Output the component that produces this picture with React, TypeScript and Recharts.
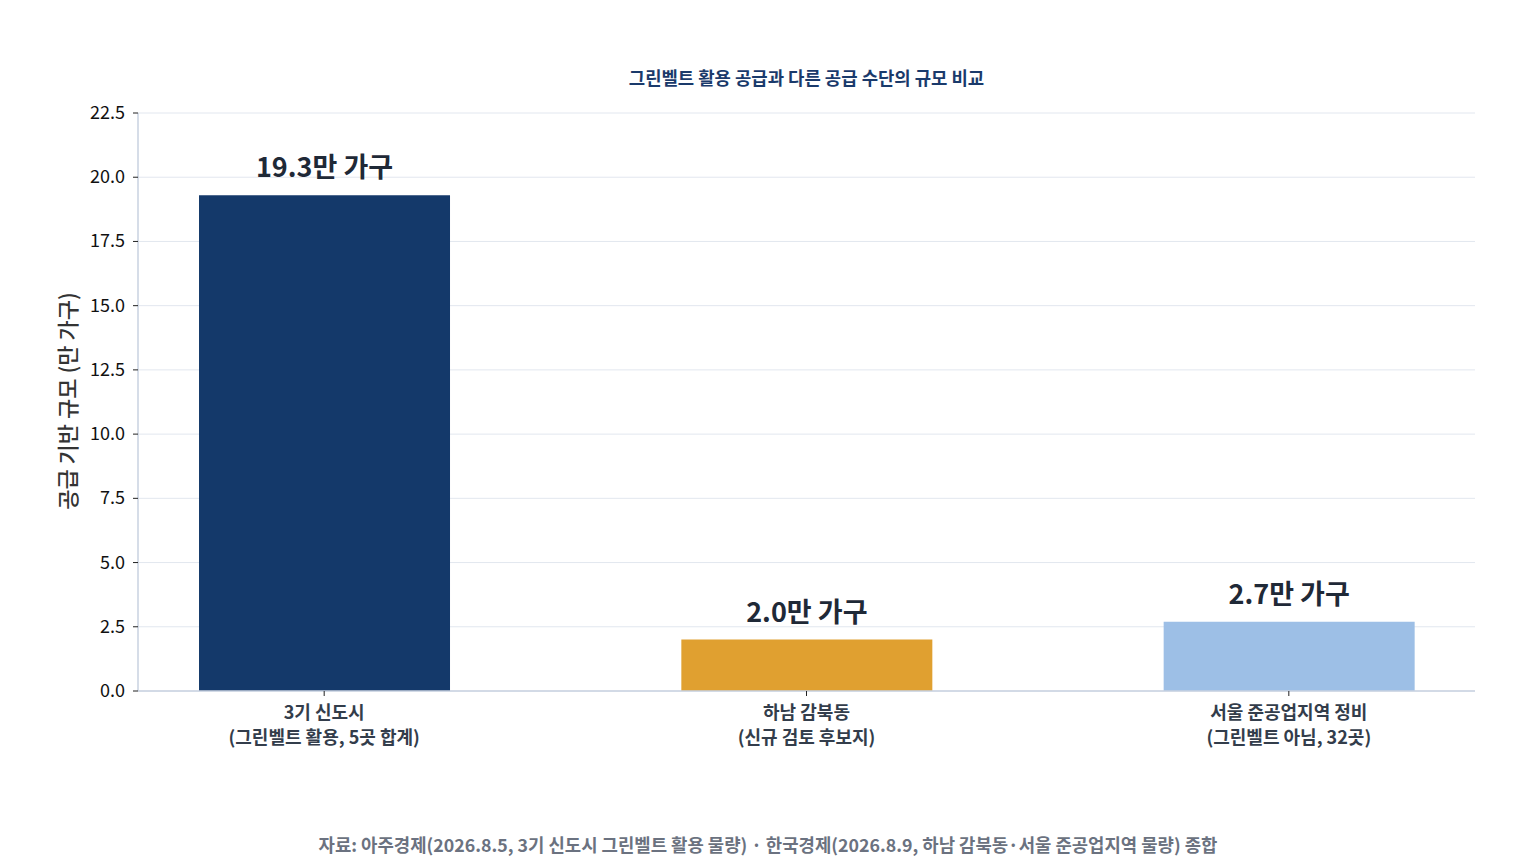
import { BarChart, Bar, XAxis, YAxis, CartesianGrid, Cell, LabelList } from 'recharts';

const categories = [
  ['3기 신도시', '(그린벨트 활용, 5곳 합계)'],
  ['하남 감북동', '(신규 검토 후보지)'],
  ['서울 준공업지역 정비', '(그린벨트 아님, 32곳)'],
];
const values = [19.3, 2.0, 2.7];
const barColors = ['#14396a', '#e0a030', '#9dbfe6'];
const yTicks = [0, 2.5, 5, 7.5, 10, 12.5, 15, 17.5, 20, 22.5];

const FONT = '"Noto Sans CJK KR", "Noto Sans", sans-serif';

const data = values.map((v, i) => ({ x: i, value: v }));

const CategoryTick = ({ x, y, payload }: any) => {
  const lines = categories[payload.value] || [];
  return (
    <g transform={`translate(${x},${y})`}>
      {lines.map((line, i) => (
        <text
          key={i}
          x={0}
          y={21 + i * 25}
          textAnchor="middle"
          fill="#333d4b"
          fontSize={18}
          fontWeight={700}
          fontFamily={FONT}
        >
          {line}
        </text>
      ))}
    </g>
  );
};

const ValueTick = ({ x, y, payload }: any) => (
  <text
    x={x - 6}
    y={y}
    dy={6}
    textAnchor="end"
    fill="#111"
    fontSize={18}
    fontFamily={FONT}
  >
    {Number(payload.value).toFixed(1)}
  </text>
);

const TopLabel = ({ x, y, width, value }: any) => (
  <text
    x={x + width / 2}
    y={y - 18}
    textAnchor="middle"
    fill="#1f2937"
    fontSize={27}
    fontWeight={700}
    fontFamily={FONT}
  >
    {`${Number(value).toFixed(1)}만 가구`}
  </text>
);

export default function App() {
  return (
    <div style={{ position: 'absolute', left: 0, top: 0, width: 1536, height: 864, background: '#fff', fontFamily: FONT }}>
      <div
        style={{
          position: 'absolute',
          left: 138,
          width: 1337,
          top: 64,
          textAlign: 'center',
          fontSize: 17.8,
          fontWeight: 700,
          color: '#1a3a6b',
        }}
      >
        그린벨트 활용 공급과 다른 공급 수단의 규모 비교
      </div>
      <div
        style={{
          position: 'absolute',
          left: 66,
          top: 401,
          transform: 'translate(-50%, -50%) rotate(-90deg)',
          whiteSpace: 'nowrap',
          fontSize: 22,
          fontWeight: 500,
          color: '#333',
        }}
      >
        공급 기반 규모 (만 가구)
      </div>
      <BarChart
        width={1536}
        height={864}
        data={data}
        margin={{ top: 113, right: 61, bottom: 0, left: 0 }}
      >
        <CartesianGrid vertical={false} stroke="#e2e7ef" />
        <XAxis
          dataKey="x"
          type="number"
          domain={[-0.386, 2.386]}
          ticks={[0, 1, 2]}
          interval={0}
          height={173}
          tick={<CategoryTick />}
          axisLine={{ stroke: '#c8d2e0', strokeWidth: 1.5 }}
          tickLine={{ stroke: '#222' }}
          tickSize={5}
        />
        <YAxis
          width={138}
          domain={[0, 22.5]}
          ticks={yTicks}
          interval={0}
          tick={<ValueTick />}
          axisLine={{ stroke: '#c8d2e0', strokeWidth: 1.5 }}
          tickLine={{ stroke: '#222' }}
          tickSize={5}
        />
        <Bar dataKey="value" barSize={251} isAnimationActive={false}>
          {data.map((d, i) => (
            <Cell key={i} fill={barColors[i]} />
          ))}
          <LabelList dataKey="value" content={<TopLabel />} />
        </Bar>
      </BarChart>
      <div
        style={{
          position: 'absolute',
          left: 0,
          width: 1536,
          top: 831,
          textAlign: 'center',
          fontSize: 17.8,
          fontWeight: 700,
          color: '#6b7280',
        }}
      >
        자료: 아주경제(2026.8.5, 3기 신도시 그린벨트 활용 물량) · 한국경제(2026.8.9, 하남 감북동·서울 준공업지역 물량) 종합
      </div>
    </div>
  );
}
